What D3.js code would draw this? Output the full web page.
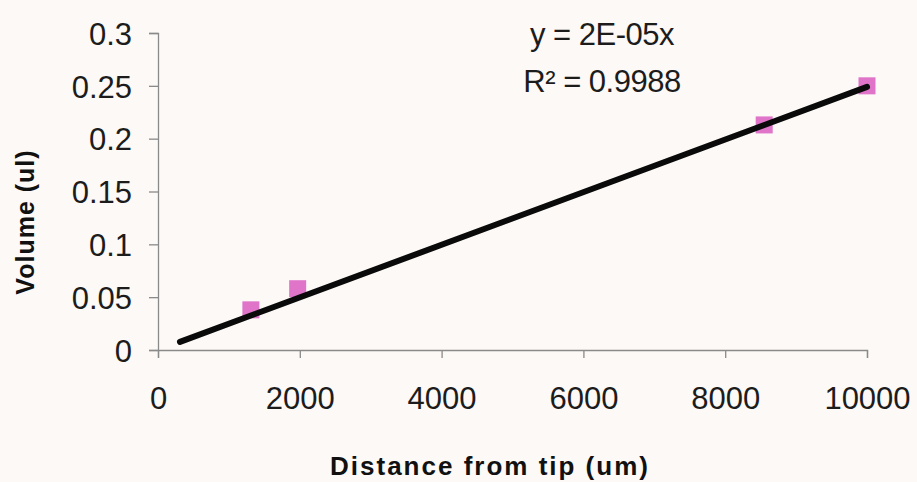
<!DOCTYPE html>
<html>
<head>
<meta charset="utf-8">
<script src="https://cdn.jsdelivr.net/npm/d3@7"></script>
<style>
  body { margin: 0; background: #fcf9f6; }
  svg { display: block; }
</style>
</head>
<body>
<div id="chart"></div>
<script>
// data
var distance = [1310, 1970, 8550, 10000];
var volume = [0.038, 0.058, 0.213, 0.25];
var trendX = [310, 10000];
var trendY = [0.0077, 0.249];
var xTicks = [0, 2000, 4000, 6000, 8000, 10000];
var yTicks = [0, 0.05, 0.1, 0.15, 0.2, 0.25, 0.3];
var eqLines = ["y = 2E-05x", "R² = 0.9988"];

var svgWidth = 917;
var svgHeight = 482;

var svg = d3.select("#chart")
    .append("svg")
    .attr("width", svgWidth)
    .attr("height", svgHeight);

svg.append("rect")
    .attr("width", svgWidth)
    .attr("height", svgHeight)
    .attr("fill", "#fcf9f6");

var xScale = d3.scaleLinear().domain([0, 10000]).range([158, 867]);
var yScale = d3.scaleLinear().domain([0, 0.3]).range([350, 33]);

var font = "'Liberation Sans', Arial, Helvetica, sans-serif";

// axes
var xAxis = d3.axisBottom(xScale).tickValues(xTicks).tickSize(8).tickPadding(29)
    .tickFormat(d3.format("d"));
var yAxis = d3.axisLeft(yScale).tickValues(yTicks).tickSize(9).tickPadding(17)
    .tickFormat(d => d3.format("")(+d.toFixed(2)));

var gx = svg.append("g")
    .attr("transform", "translate(0," + yScale(0) + ")")
    .call(xAxis);
var gy = svg.append("g")
    .attr("transform", "translate(" + xScale(0) + ",0)")
    .call(yAxis);

[gx, gy].forEach(g => {
    g.select(".domain").attr("stroke", "#8a8a8a").attr("stroke-width", 1.3);
    g.selectAll(".tick line").attr("stroke", "#8a8a8a").attr("stroke-width", 1.3);
    g.selectAll(".tick text")
        .attr("fill", "#1c1c1c")
        .style("font-family", font)
        .style("font-size", "31px");
});
gy.selectAll(".tick text").attr("dy", "0.36em");
gx.selectAll(".tick text").attr("dy", "0.72em");

// markers
svg.append("g").selectAll("rect")
    .data(distance.map((d, i) => [d, volume[i]]))
    .enter()
    .append("rect")
    .attr("x", d => xScale(d[0]) - 8.5)
    .attr("y", d => yScale(d[1]) - 8.5)
    .attr("width", 17)
    .attr("height", 17)
    .attr("fill", "#df74c9");

// trendline
var line = d3.line()
    .x(d => xScale(d[0]))
    .y(d => yScale(d[1]));

svg.append("path")
    .datum(trendX.map((x, i) => [x, trendY[i]]))
    .attr("d", line)
    .attr("fill", "none")
    .attr("stroke", "#0a0a0a")
    .attr("stroke-width", 6)
    .attr("stroke-linecap", "round");

// equation text
svg.append("g").selectAll("text")
    .data(eqLines)
    .enter()
    .append("text")
    .attr("x", 602)
    .attr("y", (d, i) => 45 + i * 47)
    .attr("text-anchor", "middle")
    .attr("fill", "#1c1c1c")
    .style("font-family", font)
    .style("font-size", "31px")
    .style("letter-spacing", "-0.5px")
    .text(d => d);

// axis titles
svg.append("text")
    .attr("x", 490)
    .attr("y", 475)
    .attr("text-anchor", "middle")
    .attr("fill", "#111")
    .style("font-family", font)
    .style("font-size", "26px")
    .style("font-weight", "bold")
    .style("letter-spacing", "2px")
    .text("Distance from tip (um)");

svg.append("text")
    .attr("transform", "translate(34,222) rotate(-90)")
    .attr("text-anchor", "middle")
    .attr("fill", "#111")
    .style("font-family", font)
    .style("font-size", "25px")
    .style("font-weight", "bold")
    .style("letter-spacing", "1px")
    .text("Volume (ul)");
</script>
</body>
</html>
